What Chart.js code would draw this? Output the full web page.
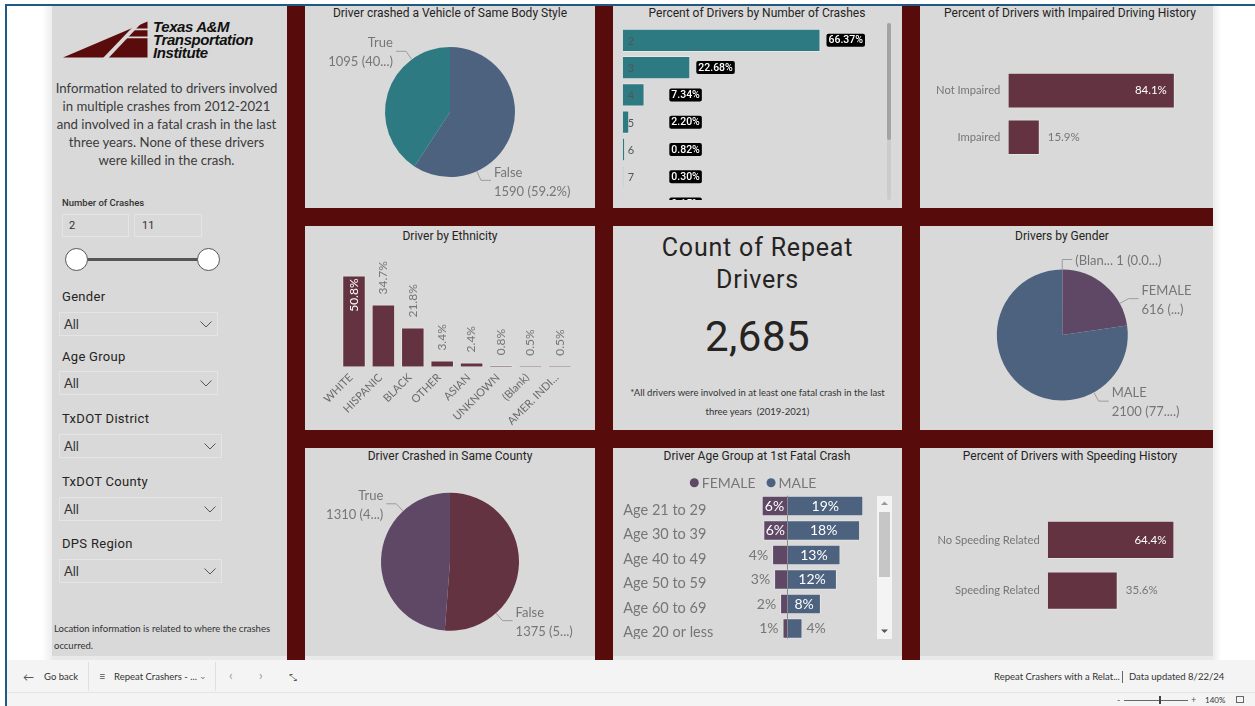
<!DOCTYPE html>
<html><head><meta charset="utf-8"><title>Repeat Crashers</title>
<script src="https://cdn.jsdelivr.net/npm/chart.js@4.4.1/dist/chart.umd.min.js"></script>
<style>
html,body{margin:0;padding:0;}
body{width:1255px;height:706px;overflow:hidden;background:#fff;position:relative;font-family:Lato,'Segoe UI',sans-serif;color:#333;}
div,canvas,svg{position:absolute;}
.panel{background:#d9d9d9;}
.title{font-family:Roboto,sans-serif;font-size:12px;color:#252423;text-align:center;white-space:nowrap;line-height:16px;width:300px;}
.lbl{font-family:Roboto,sans-serif;font-size:13px;color:#252423;letter-spacing:0.3px;white-space:nowrap;line-height:16px;left:62px;}
.dd{border:1px solid #e4e4e4;box-sizing:border-box;left:59px;height:24px;}
.dd span{position:absolute;left:4px;top:3px;font-size:13px;color:#333;line-height:16px;}
.dd svg{right:5px;top:8px;}
.bb{font-size:9.5px;color:#333;line-height:14px;white-space:nowrap;}
.vsep{width:1px;background:#e0e0e0;}
</style></head>
<body>
<!-- frame -->
<div style="left:5px;top:4px;width:1250px;height:2px;background:#1f5a85"></div>
<div style="left:5px;top:4px;width:2px;height:702px;background:#1f5a85"></div>
<div style="left:42px;top:6px;width:10px;height:654px;background:linear-gradient(to right,rgba(0,0,0,0),rgba(0,0,0,0.07))"></div>
<div style="left:1213px;top:6px;width:8px;height:654px;background:linear-gradient(to right,rgba(0,0,0,0.08),rgba(0,0,0,0))"></div>

<!-- maroon background -->
<div style="left:287px;top:6px;width:926px;height:654px;background:#580b0b"></div>

<!-- left panel -->
<div class="panel" style="left:52px;top:6px;width:235px;height:654px;border-bottom:4px solid #e9e9e9;box-sizing:border-box"></div>

<!-- chart panels -->
<div class="panel" style="left:305px;top:6px;width:290px;height:202px"></div>
<div class="panel" style="left:613px;top:6px;width:289px;height:202px"></div>
<div class="panel" style="left:920px;top:6px;width:293px;height:202px"></div>
<div class="panel" style="left:305px;top:226px;width:290px;height:204px"></div>
<div class="panel" style="left:613px;top:226px;width:289px;height:204px"></div>
<div class="panel" style="left:920px;top:226px;width:293px;height:204px"></div>
<div class="panel" style="left:305px;top:448px;width:290px;height:212px;border-bottom:4px solid #e9e9e9;box-sizing:border-box"></div>
<div class="panel" style="left:613px;top:448px;width:289px;height:212px;border-bottom:4px solid #e9e9e9;box-sizing:border-box"></div>
<div class="panel" style="left:920px;top:448px;width:293px;height:212px;border-bottom:4px solid #e9e9e9;box-sizing:border-box"></div>

<!-- logo -->
<svg style="left:60px;top:18px" width="95" height="45" viewBox="60 18 95 45">
  <polygon points="63,57.5 147.5,21.5 147.5,57.5" fill="#5a0b0b"/>
  <polygon points="103,58 108.5,58 143.5,21 138.5,21" fill="#d9d9d9"/>
  <polygon points="133,28.6 148,28.6 148,30.3 131.5,30.3" fill="#d9d9d9"/>
  <polygon points="125.5,36.6 148,36.6 148,38.3 124,38.3" fill="#d9d9d9"/>
</svg>
<div style="left:153px;top:20px;font:italic bold 15px 'Liberation Sans',Arial,sans-serif;line-height:13px;letter-spacing:-0.4px;color:#111;white-space:nowrap">Texas A&amp;M<br>Transportation<br>Institute</div>

<div style="left:49px;top:79px;width:235px;text-align:center;font-size:13.2px;line-height:18px;color:#3b3b3b;white-space:nowrap">Information related to drivers involved<br>in multiple crashes from 2012-2021<br>and involved in a fatal crash in the last<br>three years. None of these drivers<br>were killed in the crash.</div>

<!-- slicers -->
<div style="left:62px;top:196px;font:500 9.5px Roboto,sans-serif;color:#333;line-height:13px;white-space:nowrap">Number of Crashes</div>
<div id="rngMin" style="left:62px;top:214px;width:67px;height:23px;border:1px solid #e4e4e4;box-sizing:border-box;font:11px Roboto,sans-serif;color:#333;line-height:21px;padding-left:6px"></div>
<div id="rngMax" style="left:134px;top:214px;width:68px;height:23px;border:1px solid #e4e4e4;box-sizing:border-box;font:11px Roboto,sans-serif;color:#333;line-height:21px;padding-left:7px"></div>
<div style="left:76px;top:257.5px;width:132px;height:3px;background:#555"></div>
<div style="left:64.5px;top:247.5px;width:23px;height:23px;border-radius:50%;background:#fff;border:1.5px solid #555;box-sizing:border-box"></div>
<div style="left:197px;top:247.5px;width:23px;height:23px;border-radius:50%;background:#fff;border:1.5px solid #555;box-sizing:border-box"></div>

<div class="lbl" style="top:289px">Gender</div>
<div class="dd" style="top:312px;width:159px"><span>All</span><svg width="12" height="7"><polyline points="0.5,0.5 6,6 11.5,0.5" fill="none" stroke="#555" stroke-width="1"/></svg></div>
<div class="lbl" style="top:349px">Age Group</div>
<div class="dd" style="top:371px;width:159px"><span>All</span><svg width="12" height="7"><polyline points="0.5,0.5 6,6 11.5,0.5" fill="none" stroke="#555" stroke-width="1"/></svg></div>
<div class="lbl" style="top:411px">TxDOT District</div>
<div class="dd" style="top:433.5px;width:163px"><span>All</span><svg width="12" height="7"><polyline points="0.5,0.5 6,6 11.5,0.5" fill="none" stroke="#555" stroke-width="1"/></svg></div>
<div class="lbl" style="top:474px">TxDOT County</div>
<div class="dd" style="top:497px;width:163px"><span>All</span><svg width="12" height="7"><polyline points="0.5,0.5 6,6 11.5,0.5" fill="none" stroke="#555" stroke-width="1"/></svg></div>
<div class="lbl" style="top:536px">DPS Region</div>
<div class="dd" style="top:558.5px;width:163px"><span>All</span><svg width="12" height="7"><polyline points="0.5,0.5 6,6 11.5,0.5" fill="none" stroke="#555" stroke-width="1"/></svg></div>

<div style="left:54px;top:619.5px;font-size:9.5px;line-height:17.7px;color:#333;white-space:nowrap">Location information is related to where the crashes<br>occurred.</div>

<!-- titles -->
<div class="title" style="left:300px;top:5px">Driver crashed a Vehicle of Same Body Style</div>
<div class="title" style="left:607px;top:5px">Percent of Drivers by Number of Crashes</div>
<div class="title" style="left:920px;top:5px">Percent of Drivers with Impaired Driving History</div>
<div class="title" style="left:300px;top:228px">Driver by Ethnicity</div>
<div class="title" style="left:912px;top:228px">Drivers by Gender</div>
<div class="title" style="left:300px;top:448px">Driver Crashed in Same County</div>
<div class="title" style="left:607px;top:448px">Driver Age Group at 1st Fatal Crash</div>
<div class="title" style="left:920px;top:448px">Percent of Drivers with Speeding History</div>

<!-- KPI card -->
<div style="left:613px;top:232px;width:289px;text-align:center;font:25px Roboto,sans-serif;letter-spacing:0.8px;line-height:32px;color:#252423">Count of Repeat<br>Drivers</div>
<div id="kpi" style="left:613px;top:312px;width:289px;text-align:center;font:42px Roboto,sans-serif;line-height:50px;color:#252423;letter-spacing:0.5px"></div>
<div style="left:613px;top:383px;width:289px;text-align:center;font-size:9.5px;line-height:19px;color:#333;white-space:nowrap">*All drivers were involved in at least one fatal crash in the last<br>three years&nbsp; (2019-2021)</div>

<!-- scrollbars -->
<div style="left:887px;top:23px;width:4px;height:177px;background:#cbcbcb;border-radius:2px"></div>
<div style="left:887px;top:23px;width:4px;height:117px;background:#a3a3a3;border-radius:2px"></div>
<div style="left:876.5px;top:496px;width:15px;height:143px;background:#f4f4f4"></div>
<div style="left:878.5px;top:511.5px;width:11.5px;height:65px;background:#c6c6c6"></div>
<svg style="left:881px;top:501px" width="7" height="5"><polygon points="0,4 3.5,0.5 7,4" fill="#999"/></svg>
<svg style="left:881px;top:628.5px" width="7" height="5"><polygon points="0,0.5 3.5,4 7,0.5" fill="#555"/></svg>

<!-- bottom bar -->
<div style="left:7px;top:660px;width:1248px;height:46px;background:#f4f4f4"></div>
<div style="left:7px;top:692px;width:1248px;height:1px;background:#e3e3e3"></div>
<div class="bb" style="left:23px;top:670px;font-size:11px;color:#555">&#8592;</div>
<div class="bb" style="left:44px;top:670px">Go back</div>
<div class="vsep" style="left:88px;top:662px;height:29px"></div>
<div class="bb" style="left:99px;top:669px;font-size:11px;color:#555">&#8801;</div>
<div class="bb" style="left:114px;top:670px">Repeat Crashers - ...</div>
<div class="bb" style="left:199px;top:669px;font-size:9px;color:#777">&#8964;</div>
<div class="vsep" style="left:215px;top:662px;height:29px"></div>
<div class="bb" style="left:229px;top:668px;font-size:13px;color:#999">&#8249;</div>
<div class="bb" style="left:259px;top:668px;font-size:13px;color:#999">&#8250;</div>
<div class="bb" style="left:289px;top:670px;font-size:10px;color:#555">&#10529;</div>
<div class="bb" style="left:994px;top:670px">Repeat Crashers with a Relat...</div>
<div style="left:1122px;top:671px;width:1px;height:12px;background:#666"></div>
<div class="bb" style="left:1129px;top:670px">Data updated 8/22/24</div>
<div class="bb" style="left:1117px;top:693px;font-size:9px;color:#555">-</div>
<div style="left:1124px;top:700px;width:64px;height:1px;background:#666"></div>
<div style="left:1159px;top:696px;width:2px;height:8px;background:#444"></div>
<div class="bb" style="left:1191px;top:693px;font-size:9px;color:#555">+</div>
<div class="bb" style="left:1205px;top:693px;font-size:8px;color:#333">140%</div>
<div style="left:1236px;top:696px;width:8px;height:7px;border:1px solid #666;box-sizing:border-box"></div>

<div id="clipB" style="left:613px;top:6px;width:273px;height:194px;overflow:hidden"></div>
<div id="clipH" style="left:613px;top:448px;width:289px;height:191px;overflow:hidden"></div>

<script>
// ---------------- DATA ----------------
const crashRange = [2, 11];

const bodyStyleLabels = ['False', 'True'];
const bodyStyleCounts = [1590, 1095];
const bodyStyleTexts = [['False', '1590 (59.2%)'], ['True', '1095 (40...)']];

const crashNumLabels = ['2', '3', '4', '5', '6', '7', '8'];
const crashNumPct = [66.37, 22.68, 7.34, 2.20, 0.82, 0.30, 0.15];

const impairedLabels = ['Not Impaired', 'Impaired'];
const impairedPct = [84.1, 15.9];

const ethnicityLabels = ['WHITE', 'HISPANIC', 'BLACK', 'OTHER', 'ASIAN', 'UNKNOWN', '(Blank)', 'AMER. INDI...'];
const ethnicityPct = [50.8, 34.7, 21.8, 3.4, 2.4, 0.8, 0.5, 0.5];

const repeatDriverCount = 2685;

const genderLabels = ['FEMALE', 'MALE', '(Blank)'];
const genderCounts = [616, 2100, 1];
const genderTexts = [['FEMALE', '616 (...)'], ['MALE', '2100 (77....)'], ['(Blan... 1 (0.0...)']];

const sameCountyLabels = ['False', 'True'];
const sameCountyCounts = [1375, 1310];
const sameCountyTexts = [['False', '1375 (5...)'], ['True', '1310 (4...)']];

const ageGroupLabels = ['Age 21 to 29', 'Age 30 to 39', 'Age 40 to 49', 'Age 50 to 59', 'Age 60 to 69', 'Age 20 or less'];
const ageSeries = ['FEMALE', 'MALE'];
const ageFemalePct = [6.4, 6.0, 3.8, 3.3, 1.8, 1.2];
const ageMalePct = [19.0, 18.2, 13.3, 12.4, 8.4, 3.8];

const speedingLabels = ['No Speeding Related', 'Speeding Related'];
const speedingPct = [64.4, 35.6];

// ---------------- STYLE ----------------
const TEAL = '#2e7a83', PLUM = '#643341', PURPLE = '#5f4866', SLATE = '#4c627f';
const GRAY = '#767676';
const FONT = "Lato, 'Segoe UI', sans-serif";
const DIN = "Roboto, sans-serif";

document.getElementById('rngMin').textContent = crashRange[0];
document.getElementById('rngMax').textContent = crashRange[1];
document.getElementById('kpi').textContent = repeatDriverCount.toLocaleString('en-US');

function addCanvas(parent, x, y, w, h) {
  const c = document.createElement('canvas');
  c.width = w; c.height = h;
  c.style.cssText = 'left:' + x + 'px;top:' + y + 'px;width:' + w + 'px;height:' + h + 'px;';
  (parent || document.body).appendChild(c);
  return c;
}
function opts(extra) {
  return Object.assign({
    responsive: false, animation: false, devicePixelRatio: 1, events: [],
    plugins: { legend: { display: false }, tooltip: { enabled: false } }
  }, extra);
}

// ---------- pie ----------
function pieLabels(texts, fracs, sides) {
  return {
    id: 'pieLabels',
    afterDraw(chart) {
      const ctx = chart.ctx;
      ctx.save();
      chart.getDatasetMeta(0).data.forEach((arc, i) => {
        const p = arc.getProps(['x', 'y', 'startAngle', 'endAngle', 'outerRadius'], true);
        const a = p.startAngle + (p.endAngle - p.startAngle) * fracs[i];
        const c = Math.cos(a), s = Math.sin(a);
        const x0 = p.x + c * p.outerRadius, y0 = p.y + s * p.outerRadius;
        const x1 = p.x + c * (p.outerRadius + 10), y1 = p.y + s * (p.outerRadius + 10);
        const side = sides[i] || (c >= 0 ? 1 : -1);
        const x2 = x1 + side * 10;
        ctx.strokeStyle = '#9c9c9c'; ctx.lineWidth = 1;
        ctx.beginPath(); ctx.moveTo(x0, y0); ctx.lineTo(x1, y1); ctx.lineTo(x2, y1); ctx.stroke();
        ctx.font = '13px ' + FONT; ctx.fillStyle = GRAY;
        ctx.textAlign = side > 0 ? 'left' : 'right'; ctx.textBaseline = 'middle';
        const tx = x2 + side * 3;
        const lines = texts[i];
        if (lines.length === 1) ctx.fillText(lines[0], tx, y1 + 1);
        else { ctx.fillText(lines[0], tx, y1 - 8); ctx.fillText(lines[1], tx, y1 + 11); }
      });
      ctx.restore();
    }
  };
}
function pie(canvas, labels, values, colors, pad, texts, fracs, sides) {
  return new Chart(canvas, {
    type: 'pie',
    data: { labels, datasets: [{ data: values, backgroundColor: colors, borderWidth: 0 }] },
    options: opts({ layout: { padding: pad } }),
    plugins: [pieLabels(texts, fracs, sides)]
  });
}

pie(addCanvas(null, 305, 6, 290, 202), bodyStyleLabels, bodyStyleCounts, [SLATE, TEAL],
    { left: 80, right: 80, top: 41, bottom: 31 }, bodyStyleTexts, [0.73, 0.755], [0, 0]);

pie(addCanvas(null, 920, 226, 293, 204), genderLabels, genderCounts, [PURPLE, SLATE, '#888'],
    { left: 76.8, right: 85.2, top: 43.5, bottom: 29.5 }, genderTexts, [0.75, 0.25, 0.5], [0, 0, 1]);

pie(addCanvas(null, 305, 448, 290, 208), sameCountyLabels, sameCountyCounts, [PLUM, PURPLE],
    { left: 76, right: 76, top: 44.7, bottom: 25.3 }, sameCountyTexts, [0.75, 0.756], [0, 0]);

// ---------- number of crashes ----------
new Chart(addCanvas(document.getElementById('clipB'), 0, 0, 273, 230), {
  type: 'bar',
  data: { labels: crashNumLabels, datasets: [{ data: crashNumPct, backgroundColor: TEAL,
    borderColor: 'rgba(255,255,255,0.35)', borderWidth: 1, barPercentage: 0.855, categoryPercentage: 1 }] },
  options: opts({ indexAxis: 'y', layout: { padding: { left: 9.7, right: 24.9, top: 20.65, bottom: 18.25 } },
    scales: { x: { display: false, min: 0, max: 80 }, y: { display: false } } }),
  plugins: [{
    id: 'crashLabels',
    afterDatasetsDraw(chart) {
      const ctx = chart.ctx, area = chart.chartArea, ds = chart.data.datasets[0];
      ctx.save(); ctx.textBaseline = 'middle';
      chart.getDatasetMeta(0).data.forEach((bar, i) => {
        ctx.font = '11px ' + FONT; ctx.fillStyle = '#555'; ctx.textAlign = 'left';
        ctx.fillText(chart.data.labels[i], area.left + 5, bar.y + 1);
        const txt = ds.data[i].toFixed(2) + '%';
        ctx.font = '500 10.5px ' + DIN;
        const w = ctx.measureText(txt).width;
        const bx = Math.max(bar.x + 6, area.left + 46.6);
        ctx.fillStyle = '#000';
        ctx.beginPath(); ctx.roundRect(bx, bar.y - 6.5, w + 4, 13, 2); ctx.fill();
        ctx.fillStyle = '#fff'; ctx.fillText(txt, bx + 2, bar.y + 0.5);
      });
      ctx.restore();
    }
  }]
});

// ---------- simple horizontal bars ----------
const hbarLabels = {
  id: 'hbarLabels',
  afterDatasetsDraw(chart) {
    const ctx = chart.ctx, area = chart.chartArea, ds = chart.data.datasets[0];
    ctx.save(); ctx.textBaseline = 'middle';
    chart.getDatasetMeta(0).data.forEach((bar, i) => {
      ctx.font = '11.2px ' + FONT; ctx.fillStyle = GRAY; ctx.textAlign = 'right';
      ctx.fillText(chart.data.labels[i], bar.base - 8, bar.y);
      const txt = ds.data[i].toFixed(1) + '%';
      ctx.font = '11.5px ' + FONT;
      const w = ctx.measureText(txt).width;
      if (bar.x + 8 + w > area.right) { ctx.fillStyle = '#fff'; ctx.textAlign = 'right'; ctx.fillText(txt, bar.x - 8, bar.y); }
      else { ctx.fillStyle = GRAY; ctx.textAlign = 'left'; ctx.fillText(txt, bar.x + 8, bar.y); }
    });
    ctx.restore();
  }
};
function hbar(canvas, labels, values, max, pad, barPct) {
  return new Chart(canvas, {
    type: 'bar',
    data: { labels, datasets: [{ data: values, backgroundColor: PLUM, borderColor: 'rgba(255,255,255,0.3)',
      borderWidth: 1, barPercentage: barPct, categoryPercentage: 1 }] },
    options: opts({ indexAxis: 'y', layout: { padding: pad },
      scales: { x: { display: false, min: 0, max }, y: { display: false } } }),
    plugins: [hbarLabels]
  });
}
hbar(addCanvas(null, 920, 6, 293, 202), impairedLabels, impairedPct, 90,
     { left: 88.3, right: 26.5, top: 61.2, bottom: 47.4 }, 0.765);
hbar(addCanvas(null, 920, 448, 293, 208), speedingLabels, speedingPct, 70,
     { left: 127.7, right: 27.6, top: 66.6, bottom: 40 }, 0.755);

// ---------- ethnicity ----------
new Chart(addCanvas(null, 305, 226, 290, 204), {
  type: 'bar',
  data: { labels: ethnicityLabels, datasets: [{ data: ethnicityPct, backgroundColor: PLUM,
    borderColor: 'rgba(255,255,255,0.3)', borderWidth: 1, barPercentage: 0.8, categoryPercentage: 1 }] },
  options: opts({ layout: { padding: { left: 34.3, right: 20.5, top: 24, bottom: 63.3 } },
    scales: { x: { display: false }, y: { display: false, min: 0, max: 65 } } }),
  plugins: [{
    id: 'ethLabels',
    afterDatasetsDraw(chart) {
      const ctx = chart.ctx, area = chart.chartArea, ds = chart.data.datasets[0];
      ctx.save();
      chart.getDatasetMeta(0).data.forEach((bar, i) => {
        const txt = ds.data[i].toFixed(1) + '%';
        ctx.font = '12px ' + FONT; ctx.textBaseline = 'middle';
        const w = ctx.measureText(txt).width;
        ctx.save();
        if (bar.y - 10 - w < area.top) {
          ctx.translate(bar.x, bar.y + 3); ctx.rotate(-Math.PI / 2);
          ctx.fillStyle = '#fff'; ctx.textAlign = 'right';
        } else {
          ctx.translate(bar.x, bar.y - 10); ctx.rotate(-Math.PI / 2);
          ctx.fillStyle = GRAY; ctx.textAlign = 'left';
        }
        ctx.fillText(txt, 0, 0);
        ctx.restore();
        ctx.save();
        ctx.translate(bar.x - 3, area.bottom + 9); ctx.rotate(-Math.PI / 4);
        ctx.font = '11px ' + FONT; ctx.fillStyle = '#6a6a6a'; ctx.textAlign = 'right';
        ctx.fillText(chart.data.labels[i], 0, 0);
        ctx.restore();
      });
      ctx.restore();
    }
  }]
});

// ---------- age group butterfly ----------
new Chart(addCanvas(document.getElementById('clipH'), 0, 0, 289, 208), {
  type: 'bar',
  data: { labels: ageGroupLabels, datasets: [
    { label: ageSeries[0], data: ageFemalePct.map(v => -v), backgroundColor: PURPLE,
      borderColor: 'rgba(255,255,255,0.3)', borderWidth: 1, barPercentage: 0.837, categoryPercentage: 1 },
    { label: ageSeries[1], data: ageMalePct, backgroundColor: SLATE,
      borderColor: 'rgba(255,255,255,0.3)', borderWidth: 1, barPercentage: 0.837, categoryPercentage: 1 }
  ] },
  options: opts({ indexAxis: 'y', layout: { padding: { left: 94.3, right: 34.7, top: 45.75, bottom: 15.25 } },
    scales: { x: { display: false, stacked: true, min: -20, max: 20 }, y: { display: false, stacked: true } } }),
  plugins: [{
    id: 'ageLabels',
    afterDatasetsDraw(chart) {
      const ctx = chart.ctx;
      ctx.save();
      const zero = chart.scales.x.getPixelForValue(0);
      const bars0 = chart.getDatasetMeta(0).data;
      const first = bars0[0], last = bars0[bars0.length - 1];
      ctx.strokeStyle = '#8a8a8a'; ctx.lineWidth = 1;
      ctx.beginPath(); ctx.moveTo(Math.round(zero) + 0.5, first.y - first.height / 2);
      ctx.lineTo(Math.round(zero) + 0.5, last.y + last.height / 2); ctx.stroke();
      ctx.textBaseline = 'middle';
      chart.data.datasets.forEach((ds, di) => {
        const dir = di === 0 ? -1 : 1;
        chart.getDatasetMeta(di).data.forEach((bar, i) => {
          const txt = Math.round(Math.abs(ds.data[i])) + '%';
          ctx.font = '14px ' + FONT;
          const w = ctx.measureText(txt).width;
          const len = Math.abs(bar.x - bar.base);
          if (len > w + 2) {
            ctx.fillStyle = '#fff'; ctx.textAlign = 'center';
            ctx.fillText(txt, (bar.x + bar.base) / 2, bar.y);
          } else {
            ctx.fillStyle = GRAY; ctx.textAlign = dir < 0 ? 'right' : 'left';
            ctx.fillText(txt, bar.x + dir * 4, bar.y);
          }
        });
      });
      ctx.font = '14.5px ' + FONT; ctx.fillStyle = GRAY; ctx.textAlign = 'left';
      bars0.forEach((bar, i) => ctx.fillText(chart.data.labels[i], 10.3, bar.y + 4));
      // legend
      let lx = 76.8;
      const ly = 34.7;
      ctx.font = '14px ' + FONT;
      chart.data.datasets.forEach(ds => {
        ctx.fillStyle = ds.backgroundColor;
        ctx.beginPath(); ctx.arc(lx + 4.5, ly, 4.5, 0, Math.PI * 2); ctx.fill();
        ctx.fillStyle = GRAY; ctx.textAlign = 'left';
        ctx.fillText(ds.label, lx + 12, ly + 0.5);
        lx += 12 + ctx.measureText(ds.label).width + 11;
      });
      ctx.restore();
    }
  }]
});
</script>
</body></html>
